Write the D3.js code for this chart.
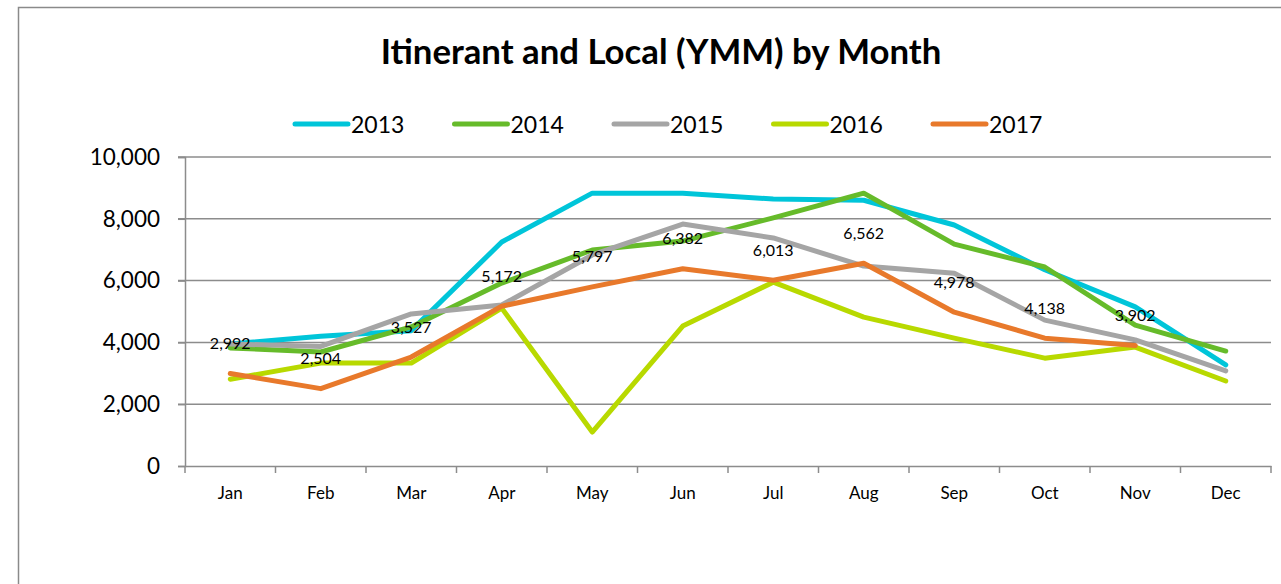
<!DOCTYPE html>
<html>
<head>
<meta charset="utf-8">
<script src="https://cdn.jsdelivr.net/npm/d3@7"></script>
<style>
  body { margin: 0; background: #fff; }
  text { font-family: Lato, "Open Sans", sans-serif; fill: #000; }
</style>
</head>
<body>
<div id="chart"></div>
<script>
// data
var months = ["Jan", "Feb", "Mar", "Apr", "May", "Jun", "Jul", "Aug", "Sep", "Oct", "Nov", "Dec"];
var years = ["2013", "2014", "2015", "2016", "2017"];
var v2013 = [3950, 4200, 4380, 7250, 8830, 8830, 8640, 8600, 7800, 6350, 5150, 3270];
var v2014 = [3820, 3690, 4500, 5920, 6990, 7280, 8030, 8830, 7180, 6440, 4560, 3720];
var v2015 = [3950, 3870, 4920, 5210, 6830, 7830, 7380, 6470, 6240, 4720, 4080, 3080];
var v2016 = [2810, 3330, 3330, 5110, 1100, 4530, 5950, 4820, 4140, 3490, 3850, 2750];
var v2017 = [2992, 2504, 3527, 5172, 5797, 6382, 6013, 6562, 4978, 4138, 3902];
var yTicks = [0, 2000, 4000, 6000, 8000, 10000];
var colors = ["#00c5d9", "#66bb2a", "#a5a5a5", "#b8d900", "#e8792b"];

var series = [v2013, v2014, v2015, v2016, v2017];

var W = 1281, H = 584;
var margin = {top: 157, right: 10, bottom: 118, left: 185};

var svg = d3.select("#chart")
  .append("svg")
    .attr("width", W)
    .attr("height", H);

// chart border (runs off the right and bottom of the picture)
svg.append("rect")
  .attr("x", 18.5).attr("y", 7.5)
  .attr("width", 1400).attr("height", 800)
  .attr("fill", "none")
  .attr("stroke", "#8a8a8a")
  .attr("stroke-width", 1.5);

var x = d3.scaleBand()
  .domain(months)
  .range([margin.left, W - margin.right]);

var y = d3.scaleLinear()
  .domain([0, 10000])
  .range([H - margin.bottom, margin.top]);

// gridlines
svg.append("g")
  .selectAll("line")
  .data(yTicks.filter(function(d) { return d > 0; }))
  .enter()
  .append("line")
    .attr("x1", margin.left - 7)
    .attr("x2", W - margin.right)
    .attr("y1", function(d) { return y(d); })
    .attr("y2", function(d) { return y(d); })
    .attr("stroke", "#8c8c8c")
    .attr("stroke-width", 1.5);

// Y axis
var yAxis = svg.append("g")
  .attr("transform", "translate(" + margin.left + ",0)")
  .call(d3.axisLeft(y).tickValues(yTicks).tickSize(7).tickPadding(18).tickFormat(d3.format(",")));
yAxis.select(".domain").attr("stroke", "#8c8c8c").attr("stroke-width", 1.5);
yAxis.selectAll(".tick line").attr("stroke", "#8c8c8c").attr("stroke-width", 1.5);
yAxis.selectAll("text")
  .style("font-size", "22.5px")
  .style("font-family", "Lato, sans-serif");

// X axis with ticks at category edges
var xAxis = svg.append("g")
  .attr("transform", "translate(0," + y(0) + ")")
  .call(d3.axisBottom(x).tickSize(0).tickPadding(21));
xAxis.select(".domain").attr("stroke", "#8c8c8c").attr("stroke-width", 1.5);
xAxis.selectAll("text")
  .style("font-size", "17px")
  .style("font-family", "Lato, sans-serif");
xAxis.selectAll(".edge")
  .data(months.concat(["end"]))
  .enter()
  .append("line")
    .attr("x1", function(d, i) { return margin.left + i * x.bandwidth(); })
    .attr("x2", function(d, i) { return margin.left + i * x.bandwidth(); })
    .attr("y1", 0)
    .attr("y2", 7)
    .attr("stroke", "#8c8c8c")
    .attr("stroke-width", 1.5);

// lines
var line = d3.line()
  .x(function(d, i) { return x(months[i]) + x.bandwidth() / 2; })
  .y(function(d) { return y(d); });

svg.append("g")
  .selectAll("path")
  .data(series)
  .enter()
  .append("path")
    .attr("d", line)
    .attr("fill", "none")
    .attr("stroke", function(d, i) { return colors[i]; })
    .attr("stroke-width", 5)
    .attr("stroke-linejoin", "round")
    .attr("stroke-linecap", "round");

// data labels for 2017
svg.append("g")
  .selectAll("text")
  .data(v2017)
  .enter()
  .append("text")
    .attr("x", function(d, i) { return x(months[i]) + x.bandwidth() / 2; })
    .attr("y", function(d) { return y(d) - 31; })
    .attr("text-anchor", "middle")
    .attr("dominant-baseline", "central")
    .style("font-size", "16px")
    .text(d3.format(","));

// title
var title = svg.append("text")
  .attr("x", 661)
  .attr("y", 64)
  .attr("text-anchor", "middle")
  .style("font-weight", "bold")
  .style("font-size", "30px")
  .text("Itinerant and Local (YMM) by Month");
var tw = title.node().getComputedTextLength();
title.style("font-size", (30 * 561 / tw) + "px");

// legend
var legend = svg.append("g")
  .selectAll("g")
  .data(years)
  .enter()
  .append("g")
    .attr("transform", function(d, i) { return "translate(" + (295 + i * 159.5) + ",124)"; });
legend.append("line")
  .attr("x1", 0).attr("x2", 53)
  .attr("y1", 0).attr("y2", 0)
  .attr("stroke", function(d, i) { return colors[i]; })
  .attr("stroke-width", 5)
  .attr("stroke-linecap", "round");
legend.append("text")
  .attr("x", 56)
  .attr("y", 0)
  .attr("dominant-baseline", "central")
  .style("font-size", "23px")
  .text(function(d) { return d; });
</script>
</body>
</html>
